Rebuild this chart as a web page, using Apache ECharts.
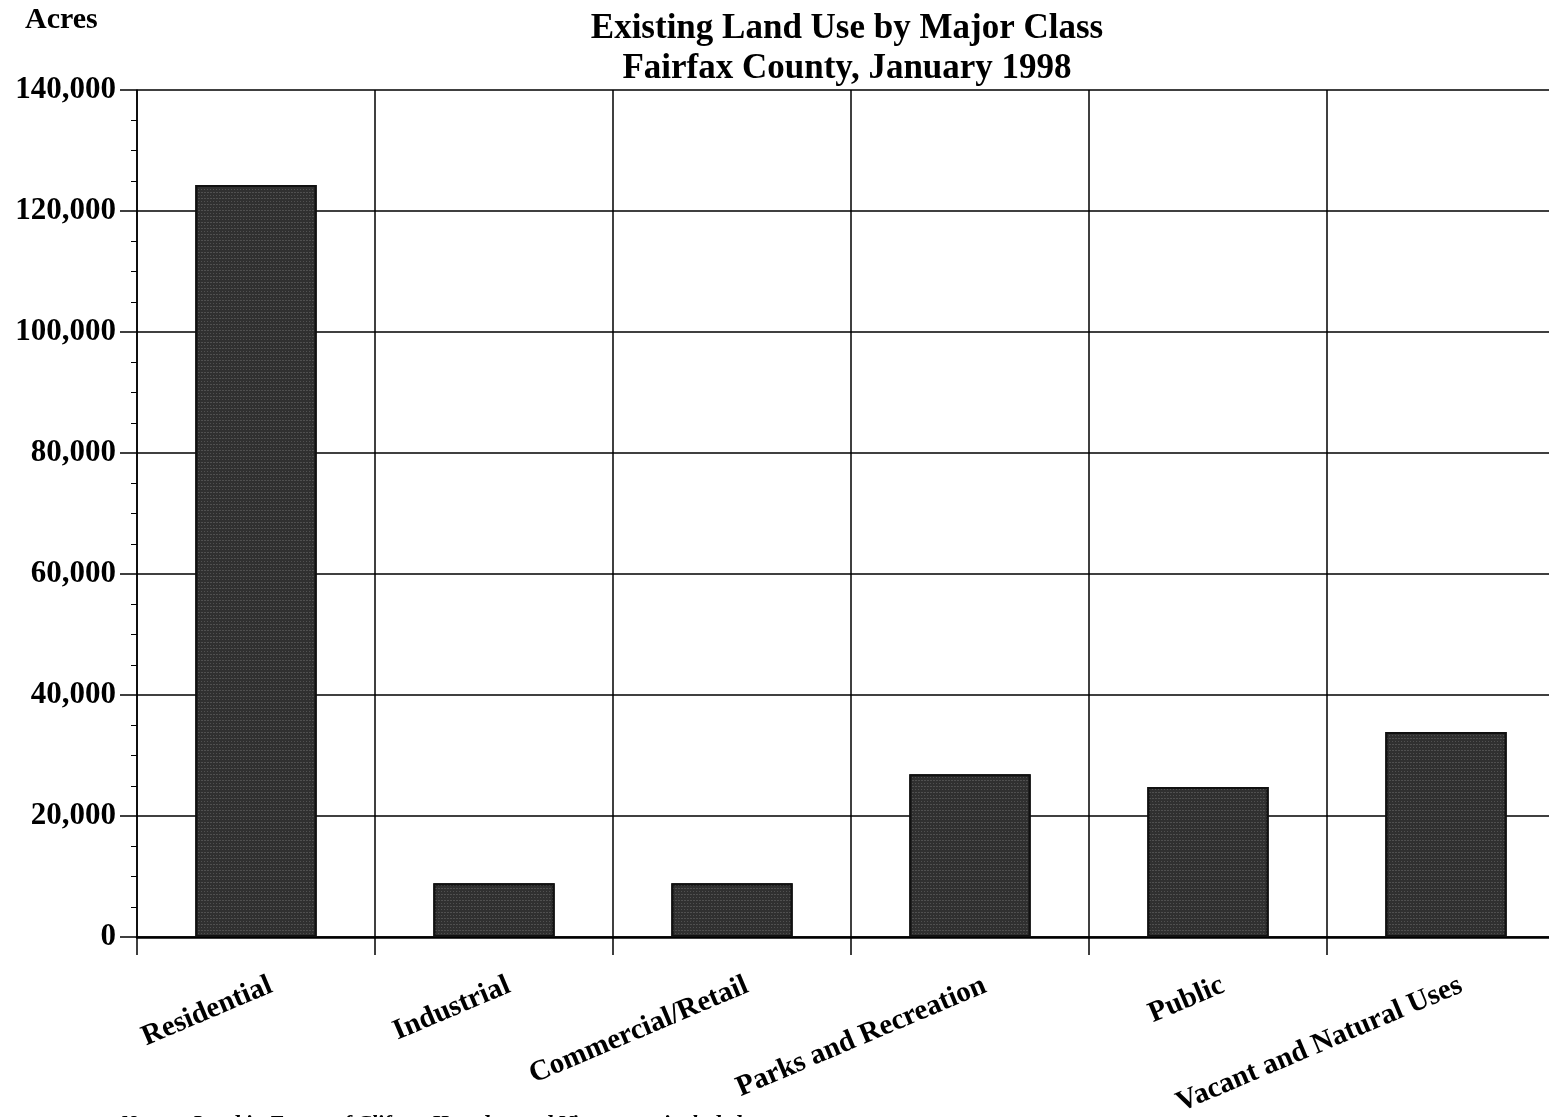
<!DOCTYPE html>
<html>
<head>
<meta charset="utf-8">
<script src="https://cdn.jsdelivr.net/npm/echarts@6/dist/echarts.min.js"></script>
<style>
html,body{margin:0;padding:0;background:#fff;overflow:hidden;}
#c{width:1549px;height:1117px;}
</style>
</head>
<body>
<div id="c"></div>
<script>
var categories = ['Residential', 'Industrial', 'Commercial/Retail', 'Parks and Recreation', 'Public', 'Vacant and Natural Uses'];
var acres = [124300, 8900, 8900, 26900, 24800, 33900];
var titleLines = ['Existing Land Use by Major Class', 'Fairfax County, January 1998'];
var yAxisName = 'Acres';
var noteText = 'Note:    Land in Towns of Clifton, Herndon and Vienna are included.';

var serif = '"Liberation Serif", "Times New Roman", serif';
var chart = echarts.init(document.getElementById('c'));
chart.setOption({
  backgroundColor: '#fff',
  animation: false,
  textStyle: { fontFamily: serif },
  title: {
    text: titleLines.join('\n'),
    left: 842, top: 4, textAlign: 'center',
    textStyle: { fontFamily: serif, fontWeight: 'bold', fontSize: 35, lineHeight: 40, color: '#000' }
  },
  graphic: [
    { type: 'text', left: 25, top: 5, style: { text: yAxisName, font: 'bold 30px ' + serif, fill: '#000' } },
    { type: 'text', left: 120, top: 1113, style: { text: noteText, font: 'italic bold 22px ' + serif, fill: '#000' } }
  ],
  grid: { left: 137, top: 90, width: 1428, height: 847, containLabel: false, outerBoundsMode: 'none' },
  xAxis: {
    type: 'category',
    data: categories,
    boundaryGap: true,
    axisLine: { show: true, lineStyle: { color: '#000', width: 2.5 } },
    axisTick: { show: true, length: 18, lineStyle: { color: '#000', width: 1.5 } },
    splitLine: { show: true, lineStyle: { color: '#000', width: 1.5 } },
    axisLabel: { rotate: 23, margin: 38, padding: [0, -10, 0, 0], fontFamily: serif, fontWeight: 'bold', fontSize: 29, color: '#000', verticalAlign: 'top' }
  },
  yAxis: {
    type: 'value',
    min: 0, max: 140000, interval: 20000,
    axisLine: { show: true, lineStyle: { color: '#000', width: 1.5 } },
    axisTick: { show: true, length: 17, lineStyle: { color: '#000', width: 1.5 } },
    minorTick: { show: true, splitNumber: 4, length: 6, lineStyle: { color: '#000', width: 1 } },
    splitLine: { show: true, lineStyle: { color: '#000', width: 1.5 } },
    axisLabel: {
      margin: 21, fontFamily: serif, fontWeight: 'bold', fontSize: 31, color: '#000',
      formatter: function (v) { return v.toLocaleString('en-US'); }
    }
  },
  series: [{
    type: 'bar',
    data: acres,
    barWidth: '51%',
    itemStyle: {
      color: '#303030',
      borderColor: '#111',
      borderWidth: 2,
      decal: {
        symbol: 'rect',
        symbolSize: 0.7,
        color: 'rgba(200,200,200,0.6)',
        dashArrayX: [[1, 2], [2, 1]],
        dashArrayY: [1, 2],
        rotation: 0
      }
    }
  }]
});
</script>
</body>
</html>
